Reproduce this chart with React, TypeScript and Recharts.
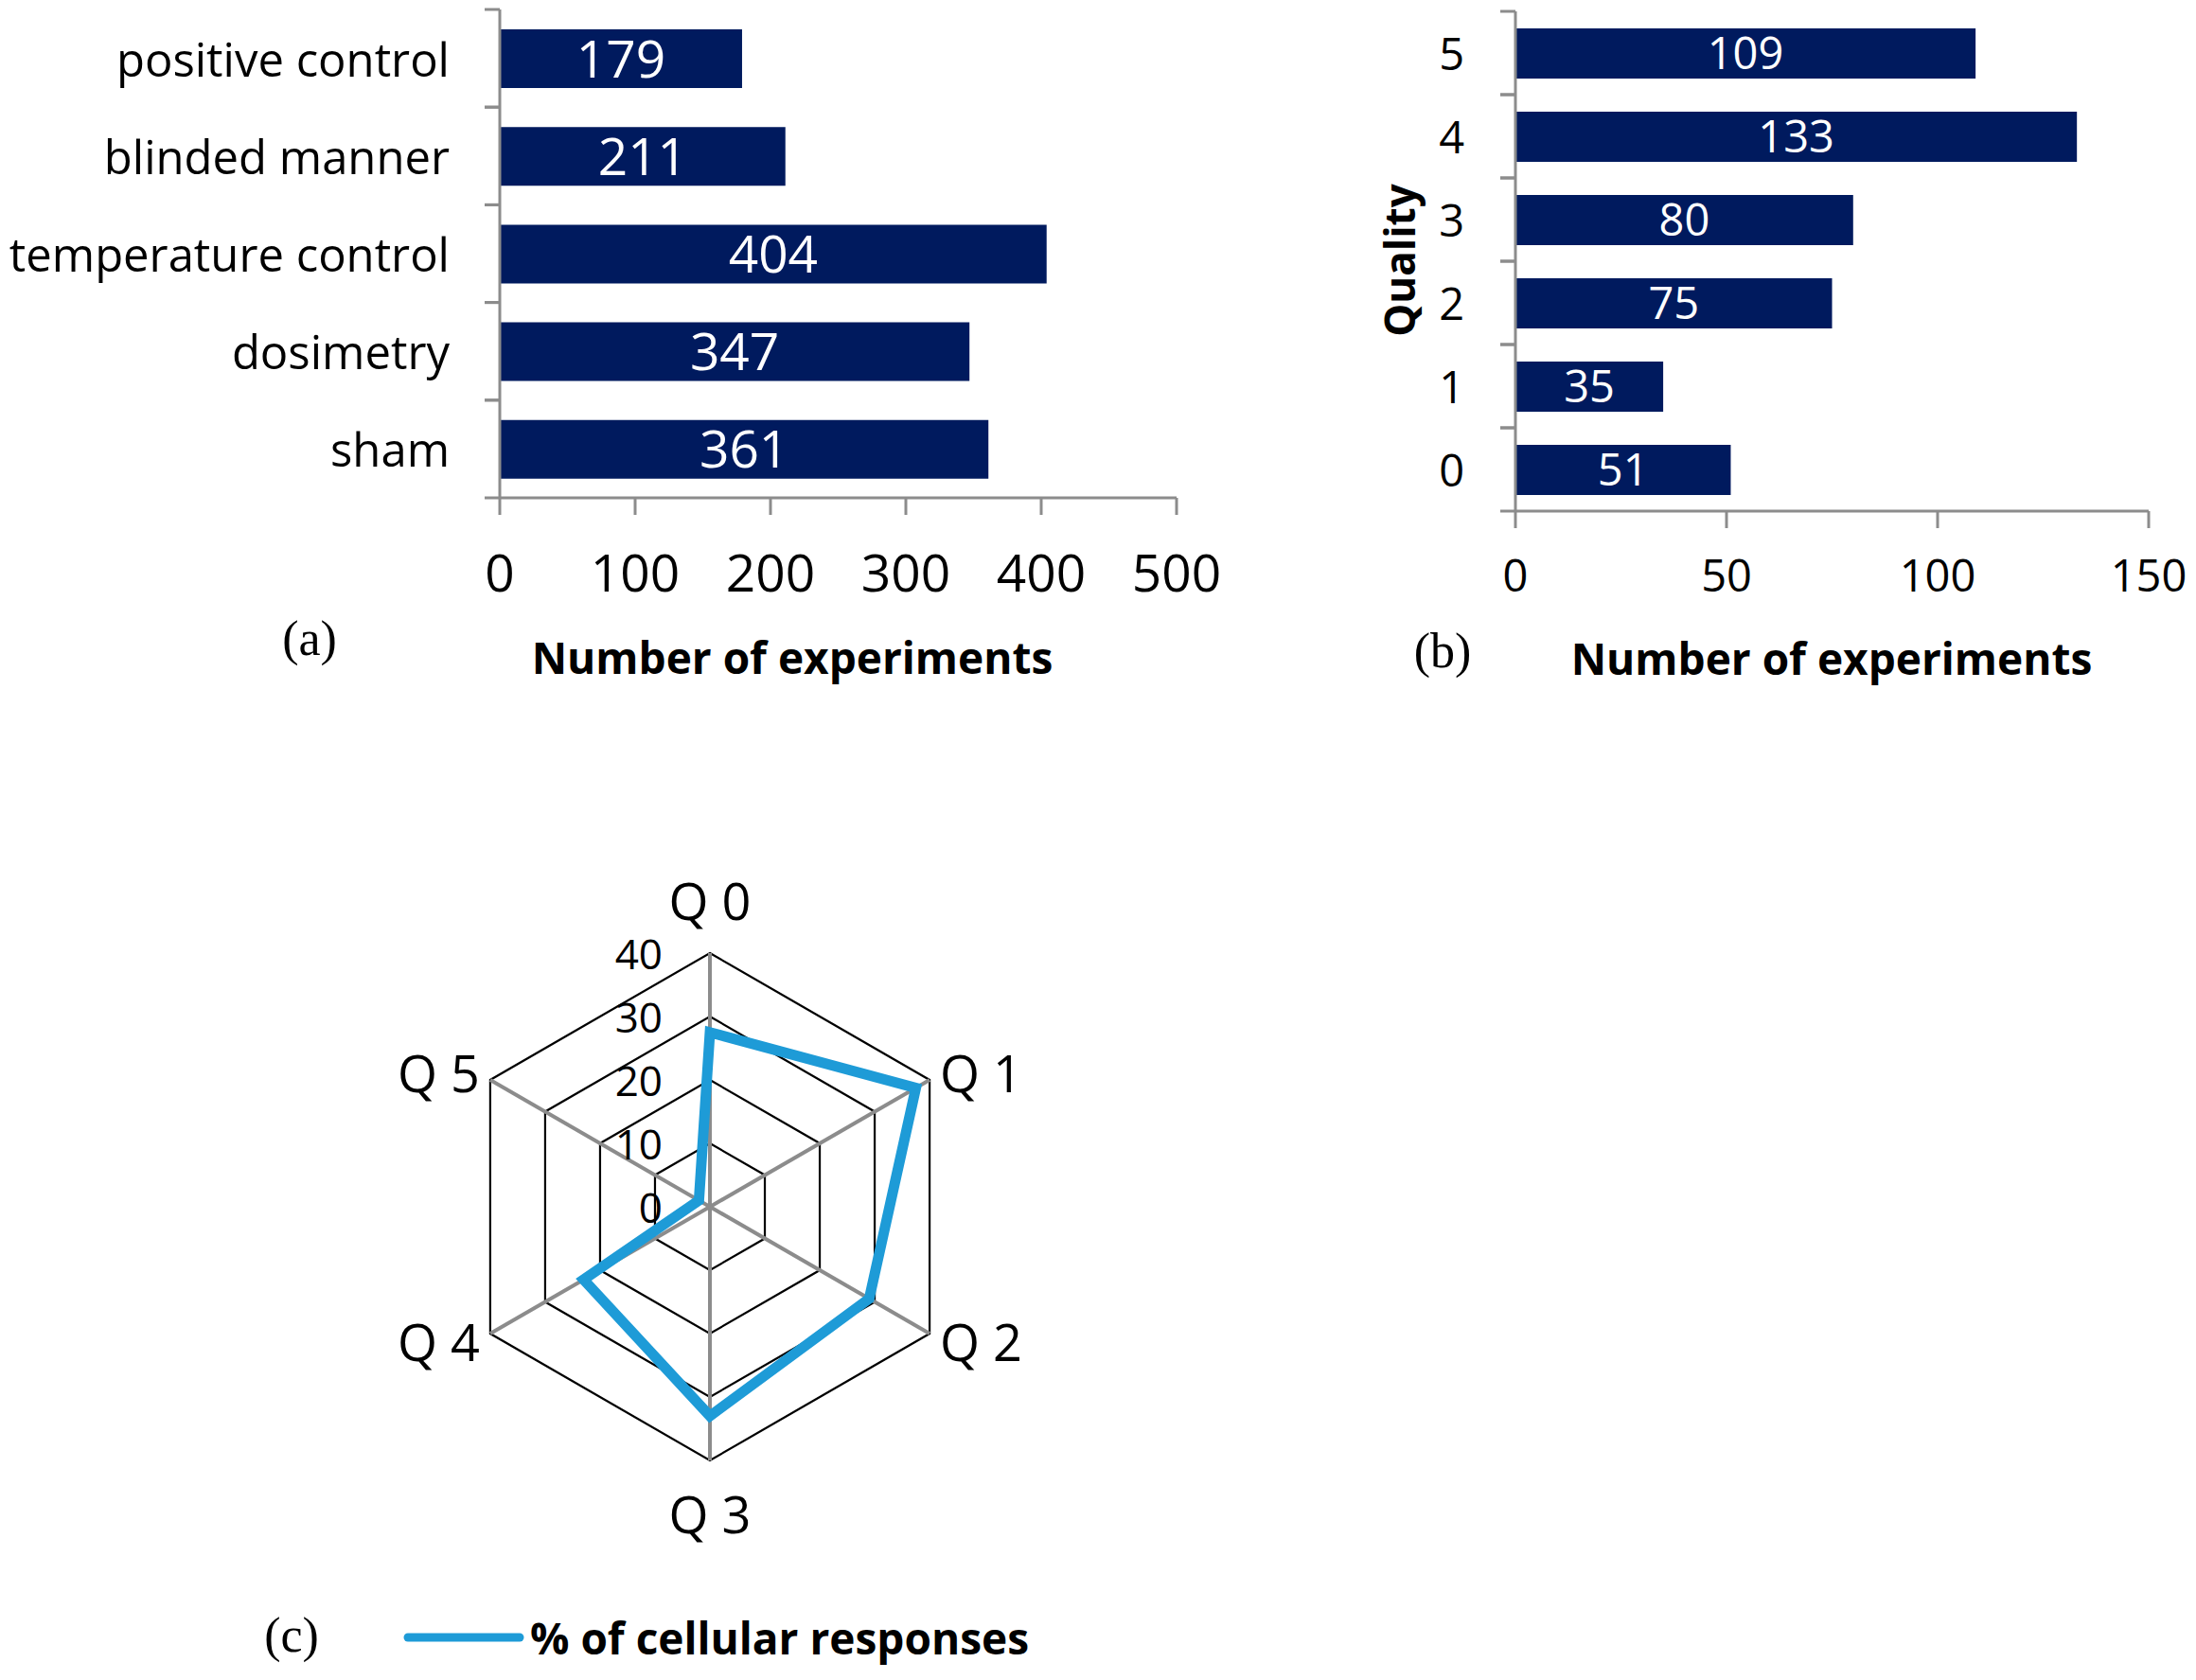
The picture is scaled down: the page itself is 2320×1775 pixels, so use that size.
import React from "react";
import {
  BarChart, Bar, XAxis, YAxis, LabelList,
  RadarChart, Radar, PolarGrid, PolarAngleAxis, PolarRadiusAxis, Legend,
} from "recharts";

const FONT = "'Open Sans', sans-serif";
const SERIF = "'Liberation Serif', serif";
const NAVY = "#001a5e";
const AXIS_GRAY = "#8c8c8c";
const BLUE = "#1e9bd7";

// (a) study design features
const designCategories = ["positive control", "blinded manner", "temperature control", "dosimetry", "sham"];
const designCounts = [179, 211, 404, 347, 361];
const designTicks = [0, 100, 200, 300, 400, 500];

// (b) quality score
const qualityLevels = ["5", "4", "3", "2", "1", "0"];
const qualityCounts = [109, 133, 80, 75, 35, 51];
const qualityTicks = [0, 50, 100, 150];

// (c) radar
const radarAxes = ["Q 0", "Q 1", "Q 2", "Q 3", "Q 4", "Q 5"];
const cellularResponses = [27.5, 37.5, 29, 33, 23, 2];
const radarTicks = [0, 10, 20, 30, 40];

const designData = designCategories.map((name, i) => ({ name, count: designCounts[i] }));
const qualityData = qualityLevels.map((name, i) => ({ name, count: qualityCounts[i] }));
const radarData = radarAxes.map((axis, i) => ({ axis, value: cellularResponses[i] }));

// category tick with Excel-style tick marks on the band edges
function bandTick(fontSize: number, tickSize: number, tickMargin: number, bandHalf: number) {
  return (props: any) => {
    const { x, y, payload } = props;
    const half = payload?.offset || bandHalf;
    const ax = x + tickMargin + tickSize;
    return (
      <g>
        <line x1={ax - tickSize} x2={ax} y1={y - half} y2={y - half} stroke={AXIS_GRAY} strokeWidth={3} />
        <line x1={ax - tickSize} x2={ax} y1={y + half} y2={y + half} stroke={AXIS_GRAY} strokeWidth={3} />
        <text x={x} y={y} textAnchor="end" dominantBaseline="central" fontSize={fontSize} fontFamily={FONT} fill="#000">
          {payload.value}
        </text>
      </g>
    );
  };
}

const R = 268;
const CX = 354;
const CY = 379;

const AngleTick = (props: any) => {
  const { payload } = props;
  const cx = props.cx ?? CX;
  const cy = props.cy ?? CY;
  const rad = (payload.coordinate * Math.PI) / 180;
  const cos = Math.cos(rad);
  const sin = Math.sin(rad);
  const vx = cx + R * cos;
  const vy = cy - R * sin;
  let x = vx;
  let y = vy;
  let anchor = "middle";
  if (Math.abs(cos) < 1e-6) {
    y = vy - 56 * Math.sign(sin);
  } else {
    anchor = cos > 0 ? "start" : "end";
    x = vx + 11 * Math.sign(cos);
    y = vy - 16 * sin;
  }
  return (
    <text x={x} y={y} textAnchor={anchor} dominantBaseline="central" fontSize={54} fontFamily={FONT} fill="#000">
      {payload.value}
    </text>
  );
};

const RadiusTick = (props: any) => {
  const { x, y, payload } = props;
  return (
    <text x={x - 50} y={y} textAnchor="end" dominantBaseline="central" fontSize={44} fontFamily={FONT} fill="#000">
      {payload.value}
    </text>
  );
};

const LegendContent = (props: any) => (
  <div style={{ display: "flex", alignItems: "center" }}>
    {(props.payload || []).map((entry: any) => (
      <div key={entry.value} style={{ display: "flex", alignItems: "center" }}>
        <svg width={130} height={16}>
          <line x1={6} x2={124} y1={8} y2={8} stroke={entry.color} strokeWidth={9} strokeLinecap="round" />
        </svg>
        <span style={{ marginLeft: 5, fontFamily: FONT, fontWeight: 700, fontSize: 46, lineHeight: "60px", color: "#000" }}>
          {entry.value}
        </span>
      </div>
    ))}
  </div>
);

const abs = (left: number, top: number): React.CSSProperties => ({ position: "absolute", left, top });
const centered = (x: number, y: number, style: React.CSSProperties): React.CSSProperties => ({
  position: "absolute", left: x, top: y, transform: "translate(-50%, -50%)", whiteSpace: "nowrap", lineHeight: 1, color: "#000", ...style,
});
const titleStyle = { fontFamily: FONT, fontWeight: 700, fontSize: 46 };
const panelStyle = { fontFamily: SERIF, fontSize: 52 };

export default function App() {
  return (
    <div style={{ position: "absolute", left: 0, top: 0, width: 2320, height: 1775, overflow: "hidden", background: "#fff" }}>
      {/* (a) */}
      <div style={abs(-3, -2)}>
        <BarChart width={1300} height={740} data={designData} layout="vertical"
          margin={{ top: 12, right: 54, left: 0, bottom: 0 }}>
          <XAxis type="number" domain={[0, 500]} ticks={designTicks} interval={0} height={212}
            tick={{ fontSize: 55, fill: "#000", fontFamily: FONT }} tickSize={18} tickMargin={42}
            axisLine={{ stroke: AXIS_GRAY, strokeWidth: 3 }} tickLine={{ stroke: AXIS_GRAY, strokeWidth: 3 }} />
          <YAxis type="category" dataKey="name" width={531} interval={0} tickSize={16} tickMargin={37}
            tick={bandTick(49, 16, 37, 51.6)} tickLine={false} axisLine={{ stroke: AXIS_GRAY, strokeWidth: 3 }} />
          <Bar dataKey="count" fill={NAVY} barSize={62} isAnimationActive={false}>
            <LabelList dataKey="count" position="center" fill="#fff" fontSize={55} fontFamily={FONT} />
          </Bar>
        </BarChart>
      </div>
      <div style={centered(327, 675, panelStyle)}>(a)</div>
      <div style={centered(837, 694, titleStyle)}>Number of experiments</div>

      {/* (b) */}
      <div style={abs(1292, 0)}>
        <BarChart width={1100} height={740} data={qualityData} layout="vertical"
          margin={{ top: 12, right: 122, left: 0, bottom: 0 }}>
          <XAxis type="number" domain={[0, 150]} ticks={qualityTicks} interval={0} height={200}
            tick={{ fontSize: 47, fill: "#000", fontFamily: FONT }} tickSize={18} tickMargin={34}
            axisLine={{ stroke: AXIS_GRAY, strokeWidth: 3 }} tickLine={{ stroke: AXIS_GRAY, strokeWidth: 3 }} />
          <YAxis type="category" dataKey="name" width={309} interval={0} tickSize={16} tickMargin={38}
            tick={bandTick(47, 16, 38, 44)} tickLine={false} axisLine={{ stroke: AXIS_GRAY, strokeWidth: 3 }} />
          <Bar dataKey="count" fill={NAVY} barSize={53} isAnimationActive={false}>
            <LabelList dataKey="count" position="center" fill="#fff" fontSize={47} fontFamily={FONT} />
          </Bar>
        </BarChart>
      </div>
      <div style={centered(1478, 275, { ...titleStyle, fontSize: 44, transform: "translate(-50%, -50%) rotate(-90deg)" })}>Quality</div>
      <div style={centered(1524, 688, panelStyle)}>(b)</div>
      <div style={centered(1935, 695, titleStyle)}>Number of experiments</div>

      {/* (c) */}
      <div style={abs(396, 896)}>
        <RadarChart width={760} height={875} data={radarData} cx={CX} cy={CY} outerRadius={R}
          margin={{ top: 0, right: 0, left: 0, bottom: 0 }}>
          <PolarGrid gridType="polygon" radialLines={false} stroke="#000" strokeWidth={2.2} />
          <PolarGrid gridType="polygon" radialLines={true} polarRadius={[0]} stroke={AXIS_GRAY} strokeWidth={4} />
          <PolarAngleAxis dataKey="axis" tick={AngleTick} axisLine={false} tickLine={false} />
          <PolarRadiusAxis angle={90} domain={[0, 40]} ticks={radarTicks as any} tickCount={5} axisLine={false}
            tick={RadiusTick} />
          <Radar dataKey="value" name="% of cellular responses" stroke={BLUE} strokeWidth={11} fill="none"
            fillOpacity={0} dot={false} isAnimationActive={false} />
          <Legend content={LegendContent} wrapperStyle={{ position: "absolute", left: 29, top: 804, width: 720 }} />
        </RadarChart>
      </div>
      <div style={centered(308, 1728, panelStyle)}>(c)</div>
    </div>
  );
}
